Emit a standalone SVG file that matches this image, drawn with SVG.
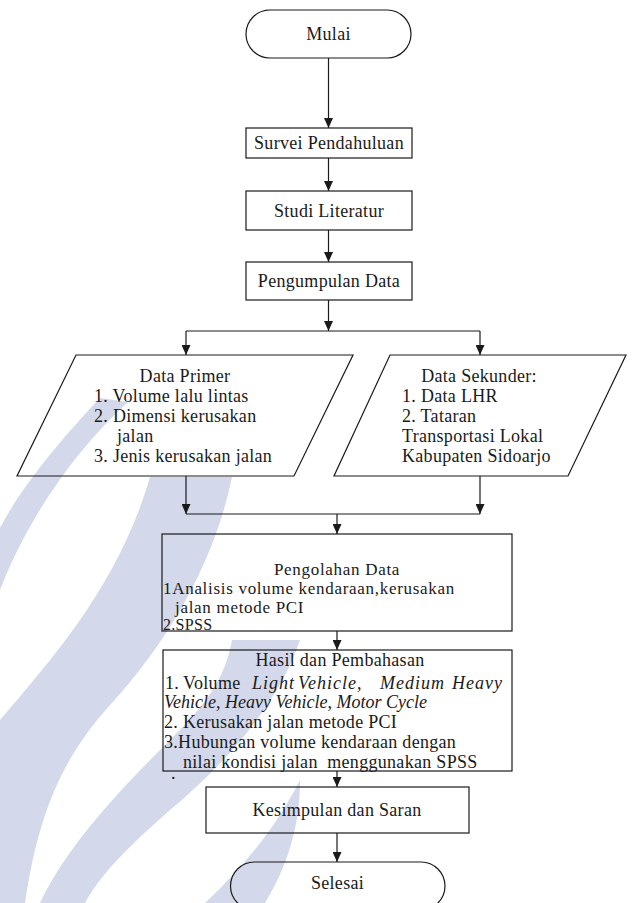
<svg xmlns="http://www.w3.org/2000/svg" width="634" height="903" viewBox="0 0 634 903">
<defs>
<style>
.t{font-family:"Liberation Serif","Times New Roman",serif;font-size:18px;letter-spacing:0.3px;fill:#1a1a1a}
.s{font-size:17px;letter-spacing:0.7px}
.c{text-anchor:middle}
.i{font-style:italic;letter-spacing:0}
.box{fill:none;stroke:#1a1a1a;stroke-width:1.2}
.wm{fill:#d3d9eb;stroke:none}
.ln{fill:none;stroke:#1a1a1a;stroke-width:1.2}
</style>
<marker id="ah" markerUnits="userSpaceOnUse" markerWidth="10" markerHeight="9" refX="10" refY="4.5" orient="auto">
<path d="M0,0 L10,4.5 L0,9 Z" fill="#1a1a1a"/>
</marker>
</defs>
<rect width="634" height="903" fill="#ffffff"/>
<g id="watermark">
<path class="wm" d="M100,398 C70,430 25,480 0,528 L0,590 C25,525 70,455 128,402 Z"/>
<path class="wm" d="M150,477 L232,477 C215,560 170,640 110,705 C70,750 40,800 25,903 L0,903 L0,720 C60,650 120,580 150,477 Z"/>
<path class="wm" d="M232,640 L300,640 C280,700 230,760 170,810 C130,845 100,875 85,903 L40,903 C70,840 130,780 170,740 C205,705 225,680 232,640 Z"/>
<path class="wm" d="M300,780 C300,830 285,870 265,903 L205,903 C240,870 275,830 300,780 Z"/>
</g>
<g id="connectors">
<path class="ln" d="M328.5,58 V128" marker-end="url(#ah)"/>
<path class="ln" d="M328.5,158 V191" marker-end="url(#ah)"/>
<path class="ln" d="M328.5,230 V262" marker-end="url(#ah)"/>
<path class="ln" d="M328.5,300 V331" marker-end="url(#ah)"/>
<path class="ln" d="M186,331 H480"/>
<path class="ln" d="M186,331 V355" marker-end="url(#ah)"/>
<path class="ln" d="M480,331 V355" marker-end="url(#ah)"/>
<path class="ln" d="M186,476 V514" marker-end="url(#ah)"/>
<path class="ln" d="M480,476 V514" marker-end="url(#ah)"/>
<path class="ln" d="M186,514 H480"/>
<path class="ln" d="M337,514 V534" marker-end="url(#ah)"/>
<path class="ln" d="M337,631 V650" marker-end="url(#ah)"/>
<path class="ln" d="M337,771 V787" marker-end="url(#ah)"/>
<path class="ln" d="M337,833 V862" marker-end="url(#ah)"/>
</g>
<g id="mulai">
<rect class="box" x="246" y="10" width="165" height="48" rx="24"/>
<text class="t c" x="328.5" y="40">Mulai</text>
</g>
<g id="survei">
<rect class="box" x="246" y="128" width="166" height="30"/>
<text class="t c" x="329" y="149">Survei Pendahuluan</text>
</g>
<g id="studi">
<rect class="box" x="246" y="191" width="166" height="39"/>
<text class="t c" x="329" y="217">Studi Literatur</text>
</g>
<g id="pengumpulan">
<rect class="box" x="246" y="262" width="166" height="38"/>
<text class="t c" x="329" y="287">Pengumpulan Data</text>
</g>
<g id="data-primer">
<polygon class="box" points="76,355 353,355 294,476 17,476"/>
<text class="t c" x="185" y="382">Data Primer</text>
<text class="t" x="94" y="402">1. Volume lalu lintas</text>
<text class="t" x="94" y="422">2. Dimensi kerusakan</text>
<text class="t" x="117" y="442">jalan</text>
<text class="t" x="94" y="462">3. Jenis kerusakan jalan</text>
</g>
<g id="data-sekunder">
<polygon class="box" points="390,355 626,355 568,476 334,476"/>
<text class="t c" x="479" y="382">Data Sekunder:</text>
<text class="t" x="402" y="402">1. Data LHR</text>
<text class="t" x="402" y="422">2. Tataran</text>
<text class="t" x="402" y="442">Transportasi Lokal</text>
<text class="t" x="402" y="462">Kabupaten Sidoarjo</text>
</g>
<g id="pengolahan">
<rect class="box" x="162" y="534" width="350" height="97"/>
<text class="t s c" x="337" y="575">Pengolahan Data</text>
<text class="t s" x="163" y="594">1Analisis volume kendaraan,kerusakan</text>
<text class="t s" x="175" y="613">jalan metode PCI</text>
<text class="t" x="163" y="630" style="font-size:16px;letter-spacing:0.3px">2.SPSS</text>
</g>
<g id="hasil">
<rect class="box" x="163" y="650" width="349" height="121"/>
<text class="t c" x="340" y="666">Hasil dan Pembahasan</text>
<text class="t" y="689"><tspan x="165">1.</tspan><tspan x="183">Volume</tspan><tspan class="i" x="252" style="letter-spacing:1px">Light</tspan><tspan class="i" x="298" style="letter-spacing:1px">Vehicle,</tspan><tspan class="i" x="380" style="letter-spacing:1px">Medium</tspan><tspan class="i" x="452" style="letter-spacing:1px">Heavy</tspan></text>
<text class="t i" x="164" y="708">Vehicle, Heavy Vehicle, Motor Cycle</text>
<text class="t" x="164" y="728">2. Kerusakan jalan metode PCI</text>
<text class="t" x="164" y="748">3.Hubungan volume kendaraan dengan</text>
<text class="t" x="183" y="768" xml:space="preserve">nilai kondisi jalan  menggunakan SPSS</text>
</g>
<text class="t" x="171" y="779">.</text>
<g id="kesimpulan">
<rect class="box" x="206" y="787" width="263" height="46"/>
<text class="t c" x="337" y="816">Kesimpulan dan Saran</text>
</g>
<g id="selesai">
<rect class="box" x="230.5" y="862" width="214.5" height="48" rx="24"/>
<text class="t c" x="337.5" y="889">Selesai</text>
</g>
</svg>
